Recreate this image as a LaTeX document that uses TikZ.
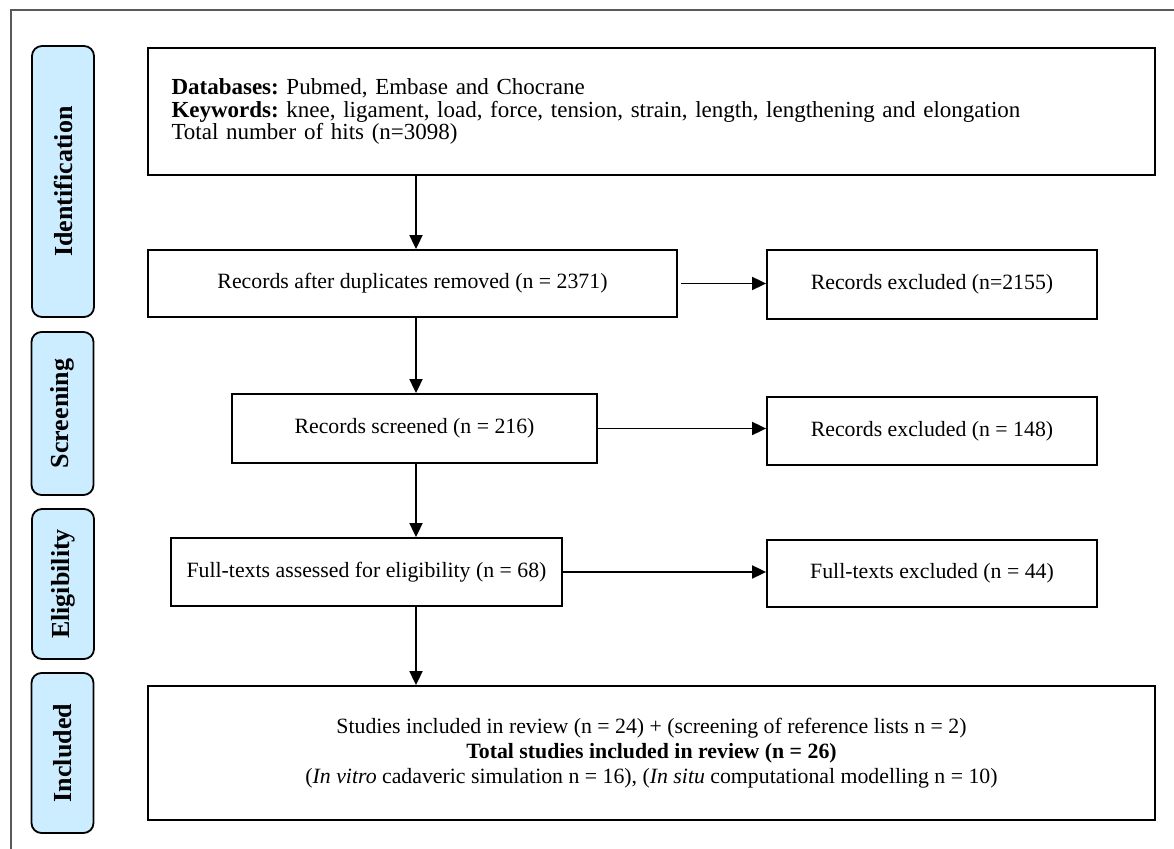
\documentclass[tikz,border=0pt]{standalone}
\usepackage{fontspec}
\setmainfont{Liberation Serif}
\usepackage{tikz}
\usetikzlibrary{arrows.meta,calc}

\definecolor{phaseblue}{RGB}{204,236,255}
\frenchspacing

\begin{document}
\begin{tikzpicture}[x=0.5pt, y=-0.5pt, >={Triangle[length=7pt,width=6.5pt]},
    box/.style={draw, line width=0.9pt, inner sep=2pt, align=center,
        font=\fontsize{10.9}{12}\selectfont},
    phase/.style={draw, line width=0.9pt, fill=phaseblue, rounded corners=5pt,
        rotate=90, minimum height=31pt, inner sep=0pt,
        font=\fontsize{13}{14}\selectfont\bfseries},
    link/.style={->, line width=0.9pt}]

    %% Background
    \useasboundingbox (0,0) rectangle (1174,849);

    % Frame
    \draw[black!65, line width=0.6pt] (1174,10) -- (11,10) -- (11,849);

    % Phases
    \node[phase, minimum width=135.5pt] (identification) at (63,181.5) {Identification};
    \node[phase, minimum width=81.5pt] (screening) at (62.5,413.5) {Screening};
    \node[phase, minimum width=75pt] (eligibility) at (63,584) {Eligibility};
    \node[phase, minimum width=80pt] (included) at (62.5,753) {Included};

    % Boxes
    \node[box, minimum width=503.5pt, minimum height=63.5pt, text width=480pt,
        align=left, inner sep=11.5pt, font=\fontsize{11.5}{11.2}\selectfont]
        (hits) at (651.5,111.5)
        {\textbf{Databases:} Pubmed, Embase and Chocrane\\
         \textbf{Keywords:} knee, ligament, load, force, tension, strain, length, lengthening and elongation\\
         Total number of hits (n=3098)};

    \node[box, minimum width=264.5pt, minimum height=33.5pt] (dup) at (412.5,283.5)
        {Records after duplicates removed (n = 2371)};
    \node[box, minimum width=165pt, minimum height=34.5pt] (excl1) at (932,284.5)
        {Records excluded (n=2155)};

    \node[box, minimum width=182.5pt, minimum height=34.5pt] (screened) at (414.5,428.5)
        {Records screened (n = 216)};
    \node[box, minimum width=165pt, minimum height=34pt] (excl2) at (932,431)
        {Records excluded (n = 148)};

    \node[box, minimum width=195.5pt, minimum height=34pt] (fulltext) at (366.5,572)
        {Full-texts assessed for eligibility (n = 68)};
    \node[box, minimum width=165pt, minimum height=33.5pt] (excl3) at (932,573.5)
        {Full-texts excluded (n = 44)};

    \node[box, minimum width=503.5pt, minimum height=67pt, font=\fontsize{10.9}{12.5}\selectfont]
        (studies) at (651.5,753)
        {Studies included in review (n = 24) + (screening of reference lists n = 2)\\
         \textbf{Total studies included in review (n = 26)}\\
         (\textit{In vitro} cadaveric simulation n = 16), (\textit{In situ} computational modelling n = 10)};

    % Arrows
    \coordinate (ax) at (416,0);
    \draw[link] (hits.south -| ax) -- (dup.north -| ax);
    \draw[link] (dup.south -| ax) -- (screened.north -| ax);
    \draw[link] (screened.south -| ax) -- (fulltext.north -| ax);
    \draw[link] (fulltext.south -| ax) -- (studies.north -| ax);

    \draw[link, shorten <=1.5pt] (dup.east) -- (dup.east -| excl1.west);
    \draw[link] (screened.east) -- (screened.east -| excl2.west);
    \draw[link] (fulltext.east) -- (fulltext.east -| excl3.west);

\end{tikzpicture}
\end{document}
